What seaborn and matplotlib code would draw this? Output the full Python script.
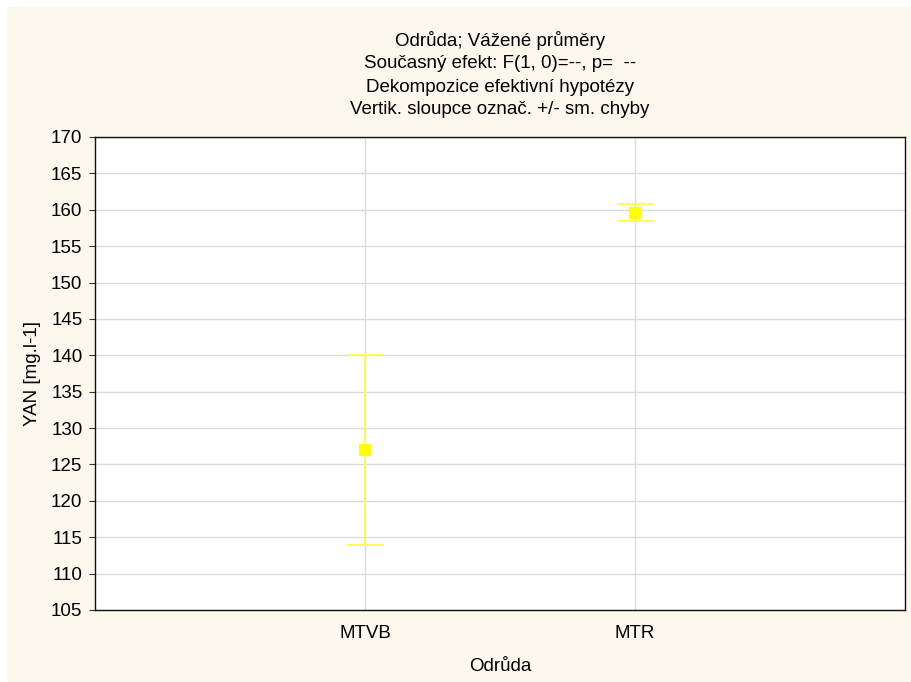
import matplotlib
matplotlib.use("Agg")
import matplotlib.pyplot as plt
import seaborn as sns
import pandas as pd
from matplotlib.patches import Rectangle

categories = ["MTVB", "MTR"]
means = [127.0, 159.6]
errors = [13.0, 1.2]

title_lines = [
    "Odrůda; Vážené průměry",
    "Současný efekt: F(1, 0)=--, p=  --",
    "Dekompozice efektivní hypotézy",
    "Vertik. sloupce označ. +/- sm. chyby",
]
y_ticks = list(range(105, 171, 5))

sns.set_style("white")
plt.rcParams['font.family'] = ['Liberation Sans', 'DejaVu Sans']
plt.rcParams['text.color'] = 'black'
plt.rcParams['axes.labelcolor'] = 'black'
plt.rcParams['xtick.color'] = 'black'
plt.rcParams['ytick.color'] = 'black'
FS = 13.5

W, H = 911, 682
fig = plt.figure(figsize=(W / 100, H / 100), dpi=100, facecolor="white")
cream = "#fdf8ee"
fig.patches.append(Rectangle((7 / W, 0), 1 - 7 / W, 1 - 7 / H, transform=fig.transFigure,
                             facecolor=cream, edgecolor="none", zorder=-10))

L, R, T, B = 95, 905, 137, 610
ax = fig.add_axes([L / W, 1 - B / H, (R - L) / W, (B - T) / H])
ax.set_facecolor("white")

df = pd.DataFrame({"Odrůda": categories, "YAN": means, "err": errors})
xpos = list(range(len(categories)))
ax.errorbar(xpos, df["YAN"], yerr=df["err"], fmt="none", ecolor="#ffff33",
            elinewidth=1.2, capsize=13, capthick=1.2, zorder=3)
sns.scatterplot(data=df, x="Odrůda", y="YAN", marker="s", s=85, color="#ffff00",
                edgecolor="#ffff00", linewidth=0, ax=ax, zorder=4)

ax.set_xlim(-1, len(categories))
ax.set_ylim(105, 170)
ax.set_yticks(y_ticks)
ax.set_xticks(xpos)
ax.set_xticklabels(categories)
ax.grid(True, color="#dcdcdc", linewidth=1)
ax.set_axisbelow(True)
for s in ax.spines.values():
    s.set_color("#111111")
    s.set_linewidth(1.0)
ax.tick_params(axis="y", left=True, length=4, width=0.8, color="#333333", pad=5, labelsize=FS)
ax.tick_params(axis="x", bottom=False, length=0, pad=11, labelsize=FS)
ax.set_xlabel("Odrůda", fontsize=FS, labelpad=11)
ax.set_ylabel("YAN [mg.l-1]", fontsize=FS, labelpad=7)

ys = [40, 63, 87, 110]
for y, line in zip(ys, title_lines):
    fig.text((L + R) / 2 / W, 1 - y / H, line, ha="center", va="center", fontsize=FS)

fig.savefig("out.png", dpi=100, facecolor=fig.get_facecolor())
